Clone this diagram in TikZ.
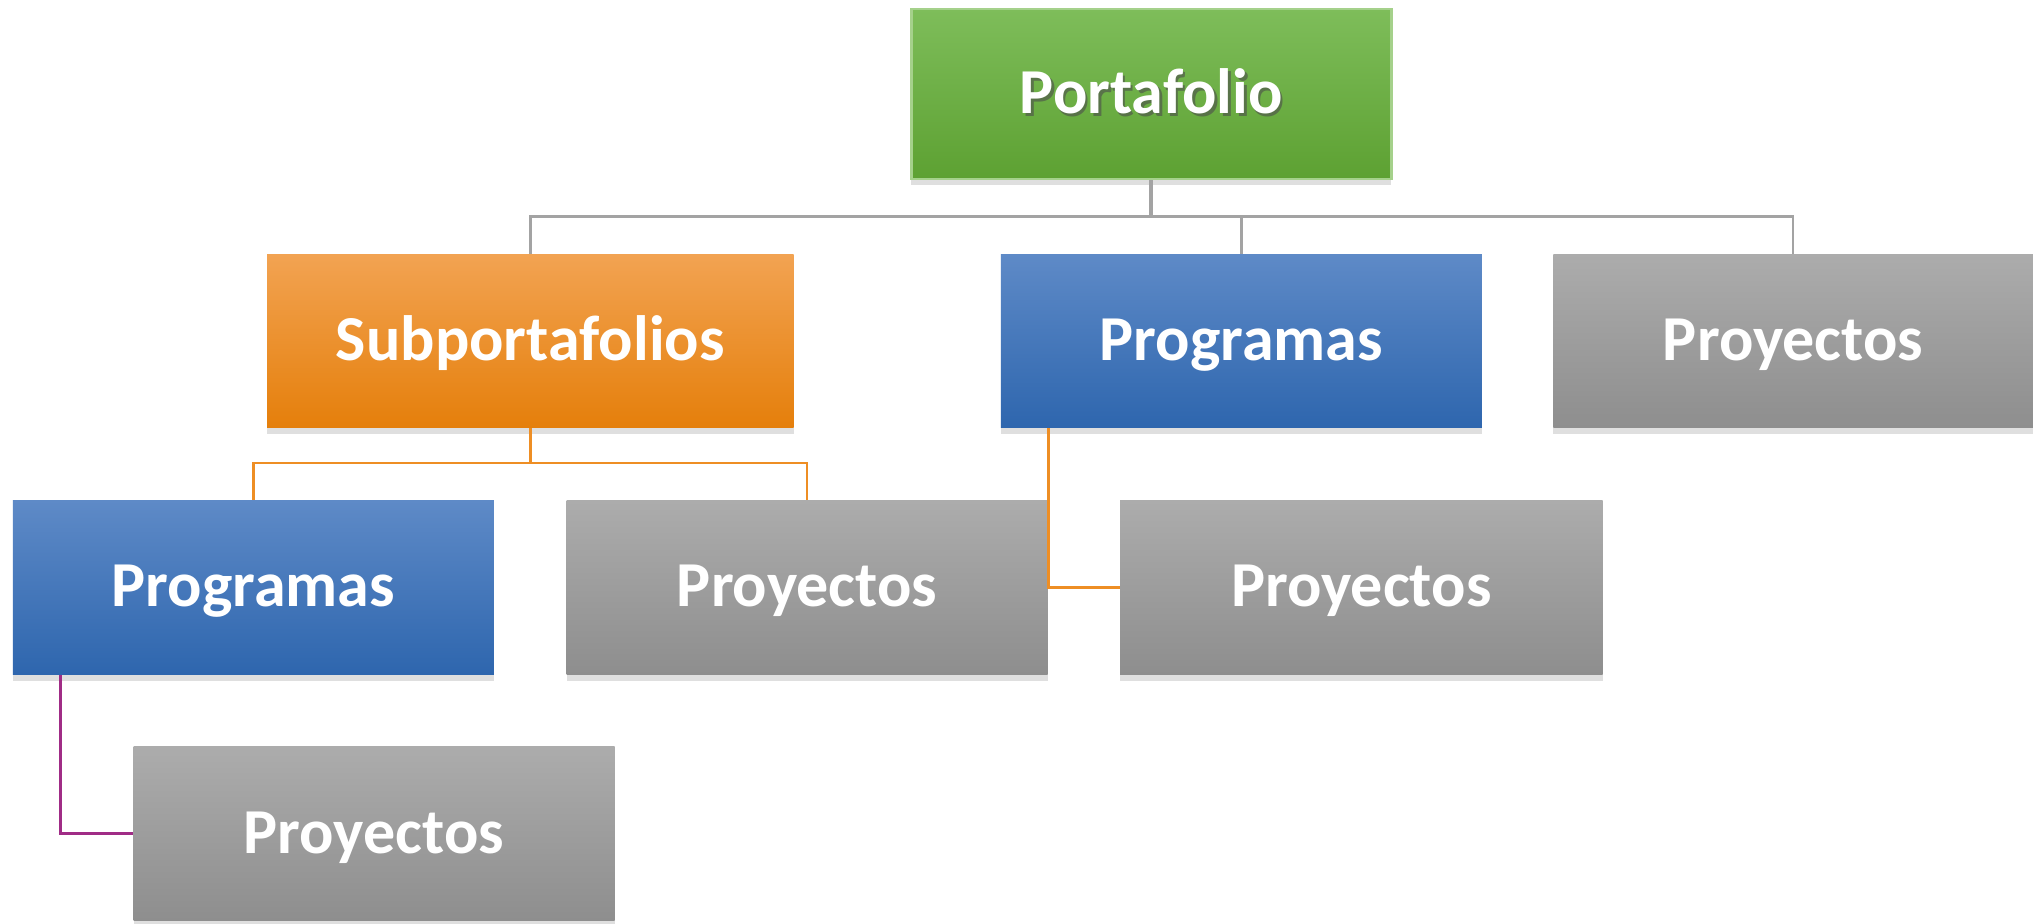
\documentclass[tikz,border=0pt]{standalone}
\usepackage{fontspec}
\setmainfont{Carlito}
\usetikzlibrary{shadows}
\definecolor{gtop}{HTML}{7EBD5A}
\definecolor{gbot}{HTML}{5DA132}
\definecolor{otop}{HTML}{F2A352}
\definecolor{omid}{HTML}{F7941D}
\definecolor{obot}{HTML}{E57F0B}
\definecolor{btop}{HTML}{5E8AC7}
\definecolor{bmid}{HTML}{3B7AC3}
\definecolor{bbot}{HTML}{2E66AE}
\definecolor{ytop}{HTML}{ACACAC}
\definecolor{ybot}{HTML}{8E8E8E}
\definecolor{lgray}{HTML}{A3A3A3}
\definecolor{lorange}{HTML}{EE8E24}
\definecolor{lpurple}{HTML}{A02C86}
\tikzset{
  lbl/.style={text=white, font=\bfseries\fontsize{24.7}{29}\selectfont, text height=17pt, text depth=2pt},
  box/.style={rectangle, inner sep=0pt, minimum height=67pt, lbl,
    drop shadow={opacity=0.25, shadow xshift=0pt, shadow yshift=-2.5pt}},
  greenbox/.style={box, top color=gtop, bottom color=gbot, draw=gtop!70!white, line width=1pt},
  orangebox/.style={box, top color=otop, middle color=omid, bottom color=obot},
  bluebox/.style={box, top color=btop, middle color=bmid, bottom color=bbot},
  graybox/.style={box, top color=ytop, bottom color=ybot},
  gline/.style={draw=lgray, line width=1pt},
  oline/.style={draw=lorange, line width=1pt},
  pline/.style={draw=lpurple, line width=1pt}
}
\begin{document}
\begin{tikzpicture}[x=0.5pt, y=-0.5pt]
\path[use as bounding box, fill=white] (0,0) rectangle (1568,712);
\coordinate (g) at (888,167);
\coordinate (o) at (409,357);
\node[greenbox, minimum width=185pt, minimum height=65.5pt] (port) at (888,72.5) {};
\node[orangebox, minimum width=203pt] (sub) at (409,263) {Subportafolios};
\node[bluebox, minimum width=185.5pt] (prog1) at (957.5,263) {Programas};
\node[graybox, minimum width=185pt] (proy1) at (1383,263) {Proyectos};
\node[bluebox, minimum width=185.5pt] (prog2) at (195.5,453) {Programas};
\node[graybox, minimum width=185.5pt] (proy2) at (622.5,453) {Proyectos};
\node[graybox, minimum width=186pt] (proy3) at (1050,453) {Proyectos};
\node[graybox, minimum width=185.5pt] (proy4) at (288.5,643) {Proyectos};
% Portafolio text with shadow
\node[lbl, text=black!70, opacity=0.6] (portsh) at ([xshift=1pt,yshift=-1pt]port.center) {Portafolio};
\node[lbl] (portt) at (port.center) {Portafolio};
% gray connectors
\draw[gline, line width=1.5pt] (port.south) -- (g);
\draw[gline] (sub.north) -- (sub.north |- g) -- (proy1.north |- g) -- (proy1.north);
\draw[gline] (g) -| (prog1.north);
% orange connectors
\draw[oline] (sub.south) -- (o);
\draw[oline] (prog2.north) |- (o) -| (proy2.north);
\draw[oline] ([xshift=18.5pt]prog1.south west) |- (proy3.west);
% purple connector
\draw[pline] ([xshift=18.5pt]prog2.south west) |- (proy4.west);
\end{tikzpicture}
\end{document}
